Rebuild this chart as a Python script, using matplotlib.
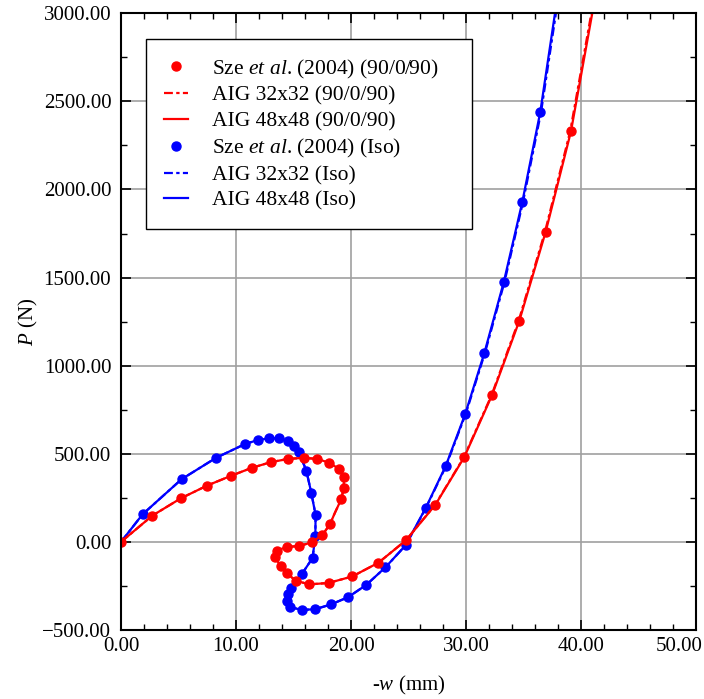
import numpy as np
import matplotlib
matplotlib.use("Agg")
import matplotlib.pyplot as plt
from matplotlib.ticker import MultipleLocator, FuncFormatter

plt.rcParams["font.family"] = ["Liberation Serif", "DejaVu Serif"]
plt.rcParams["mathtext.fontset"] = "custom"
plt.rcParams["mathtext.rm"] = "Liberation Serif"
plt.rcParams["mathtext.it"] = "Liberation Serif:italic"

########################################################################
# Data: -w (mm), P (N)

sze_red_w = [0.0, 2.72, 5.22, 7.5, 9.6, 11.36, 13.0, 14.52, 15.88, 17.07, 18.11, 18.92,
             19.37, 19.38, 19.15, 18.17, 17.52, 16.58, 15.5, 14.4, 13.54, 13.42, 13.89,
             14.42, 15.22, 16.39, 18.05, 20.11, 22.39, 24.78, 27.33, 29.85, 32.26,
             34.64, 36.93, 39.13]
sze_red_p = [0, 149, 248, 320, 376, 420, 452, 471, 477, 471, 449, 416,
             368, 308, 242, 100, 40, -3, -23, -29, -52, -87, -136,
             -179, -221, -241, -233, -196, -118, 9, 210, 481, 832,
             1255, 1760, 2330]

sze_blue_w = [1.88, 5.27, 8.26, 10.8, 11.9, 12.87, 13.74, 14.48, 15.07, 15.48, 16.12,
              16.55, 16.92, 16.9, 16.66, 15.75, 14.75, 14.55, 14.4, 14.72, 15.71, 16.88,
              18.25, 19.74, 21.33, 23.0, 24.75, 26.5, 28.23, 29.94, 31.6, 33.28, 34.9,
              36.46]
sze_blue_p = [157, 356, 477, 556, 578, 588, 588, 573, 546, 509, 403,
              278, 153, 36, -91, -180, -261, -298, -335, -370, -386, -382,
              -355, -314, -244, -144, -19, 193, 430, 727, 1073, 1473, 1930,
              2440]

aig48_red_w = [0.0, 2.72, 5.22, 7.5, 9.6, 11.36, 13.0, 14.52, 15.88, 17.07, 18.11,
               18.92, 19.37, 19.38, 19.15, 18.6, 18.17, 17.52, 16.58, 15.5, 14.4, 13.6,
               13.4, 13.5, 13.89, 14.42, 15.22, 16.39, 18.05, 20.11, 22.39, 24.78,
               27.33, 29.85, 32.26, 34.64, 36.93, 39.13, 40.98]
aig48_red_p = [0, 149, 248, 320, 376, 420, 452, 471, 477, 471, 449,
               416, 368, 308, 242, 165, 100, 40, -3, -23, -29, -48,
               -70, -100, -136, -179, -221, -241, -233, -196, -118, 9,
               210, 481, 832, 1255, 1760, 2330, 3000]

aig32_red_w = [0.0, 2.72, 5.22, 7.5, 9.6, 11.36, 13.0, 14.52, 15.88, 17.07, 18.11,
               18.92, 19.37, 19.38, 19.15, 18.6, 18.17, 17.52, 16.58, 15.5, 14.4, 13.6,
               13.4, 13.5, 13.89, 14.42, 15.22, 16.39, 18.05, 20.11, 22.39, 24.77,
               27.31, 29.82, 32.22, 34.58, 36.87, 39.06, 40.9]
aig32_red_p = [0, 149, 248, 320, 376, 420, 452, 471, 477, 471, 449,
               416, 368, 308, 242, 165, 100, 40, -3, -23, -29, -48,
               -70, -100, -136, -179, -221, -241, -233, -196, -118, 9,
               210, 481, 832, 1255, 1760, 2330, 3000]

aig48_blue_w = [0.0, 1.88, 5.27, 8.26, 10.8, 11.9, 12.87, 13.74, 14.48, 15.07,
                15.48, 16.12, 16.55, 16.92, 16.9, 16.66, 15.75, 14.75, 14.45, 14.4,
                14.72, 15.71, 16.88, 18.25, 19.74, 21.33, 23.0, 24.75, 26.5, 28.23,
                29.94, 31.6, 33.28, 34.9, 36.46, 37.74]
aig48_blue_p = [0, 157, 356, 477, 556, 578, 588, 588, 573, 546,
                509, 403, 278, 153, 36, -91, -180, -261, -300, -335,
                -370, -386, -382, -355, -314, -244, -144, -19, 193, 430,
                727, 1073, 1473, 1930, 2440, 3000]

aig32_blue_w = [0.0, 1.88, 5.27, 8.26, 10.8, 11.9, 12.87, 13.74, 14.48, 15.07,
                15.48, 16.12, 16.55, 16.92, 16.9, 16.66, 15.75, 14.75, 14.45, 14.4,
                14.72, 15.71, 16.88, 18.25, 19.74, 21.33, 23.0, 24.76, 26.52, 28.26,
                29.98, 31.65, 33.34, 34.96, 36.53, 37.82]
aig32_blue_p = [0, 157, 356, 477, 556, 578, 588, 588, 573, 546,
                509, 403, 278, 153, 36, -91, -180, -261, -300, -335,
                -370, -386, -382, -355, -314, -244, -144, -19, 193, 430,
                727, 1073, 1473, 1930, 2440, 3000]

labels = [r"Sze $et$ $al$. (2004) (90/0/90)", "AIG 32x32 (90/0/90)", "AIG 48x48 (90/0/90)",
          r"Sze $et$ $al$. (2004) (Iso)", "AIG 32x32 (Iso)", "AIG 48x48 (Iso)"]

########################################################################
# Plot

fig = plt.figure(figsize=(7.04, 6.99), dpi=100)
ax = fig.add_axes([0.1719, 0.0987, 0.8167, 0.8823])

red = "#ff0000"
blue = "#0000ff"
dashdot = (0, (4, 1.5, 1.5, 1.5))

h_b32, = ax.plot(aig32_blue_w, aig32_blue_p, color=blue, lw=1.6, ls=dashdot, zorder=3)
h_b48, = ax.plot(aig48_blue_w, aig48_blue_p, color=blue, lw=1.6, zorder=3)
h_bs, = ax.plot(sze_blue_w, sze_blue_p, "o", color=blue, ms=6.5, zorder=4)
h_r32, = ax.plot(aig32_red_w, aig32_red_p, color=red, lw=1.6, ls=dashdot, zorder=5)
h_r48, = ax.plot(aig48_red_w, aig48_red_p, color=red, lw=1.6, zorder=5)
h_rs, = ax.plot(sze_red_w, sze_red_p, "o", color=red, ms=6.5, zorder=6)

ax.set_xlim(0, 50)
ax.set_ylim(-500, 3000)
ax.xaxis.set_major_locator(MultipleLocator(10))
ax.xaxis.set_minor_locator(MultipleLocator(2))
ax.yaxis.set_major_locator(MultipleLocator(500))
ax.yaxis.set_minor_locator(MultipleLocator(250))


def fmt_num(v):
    return f"{v:.2f}".replace("-", "\u2212")


# last x label (50.00) is drawn separately, pulled left to stay in the figure
xmax = 50
ax.xaxis.set_major_formatter(FuncFormatter(lambda v, pos: "" if abs(v - xmax) < 1e-9 else fmt_num(v)))
ax.yaxis.set_major_formatter(FuncFormatter(lambda v, pos: fmt_num(v)))
ax.annotate(fmt_num(xmax), xy=(xmax, 0), xycoords=ax.get_xaxis_transform(),
            xytext=(-12.2, -5), textcoords="offset points",
            ha="center", va="top", fontsize=15, annotation_clip=False)

ax.tick_params(which="both", direction="in", top=True, right=True, labelsize=15, color="black")
ax.tick_params(which="major", length=7, width=1.2)
ax.tick_params(which="minor", length=4.5, width=1.0)
ax.tick_params(axis="x", pad=5)
ax.tick_params(axis="y", pad=7)

ax.grid(True, which="major", color="#a0a0a0", lw=1.2, zorder=0)
ax.set_axisbelow(True)
for s in ax.spines.values():
    s.set_linewidth(1.5)
    s.set_zorder(10)

ax.set_xlabel(r"-$w$ (mm)", fontsize=15, labelpad=13)
ax.set_ylabel(r"$P$ (N)", fontsize=15, labelpad=1.5)

leg = ax.legend(
    [h_rs, h_r32, h_r48, h_bs, h_b32, h_b48], labels,
    loc="upper left", bbox_to_anchor=(0.0435, 0.5, 0.567, 0.458), mode="expand",
    borderaxespad=0, fontsize=15.5, frameon=True, fancybox=False, framealpha=1,
    edgecolor="black", borderpad=0.85, labelspacing=0.25, handlelength=1.1,
    handletextpad=1.1,
)
leg.get_frame().set_linewidth(1.0)
leg.set_zorder(20)

fig.savefig("out.png", dpi=100)
